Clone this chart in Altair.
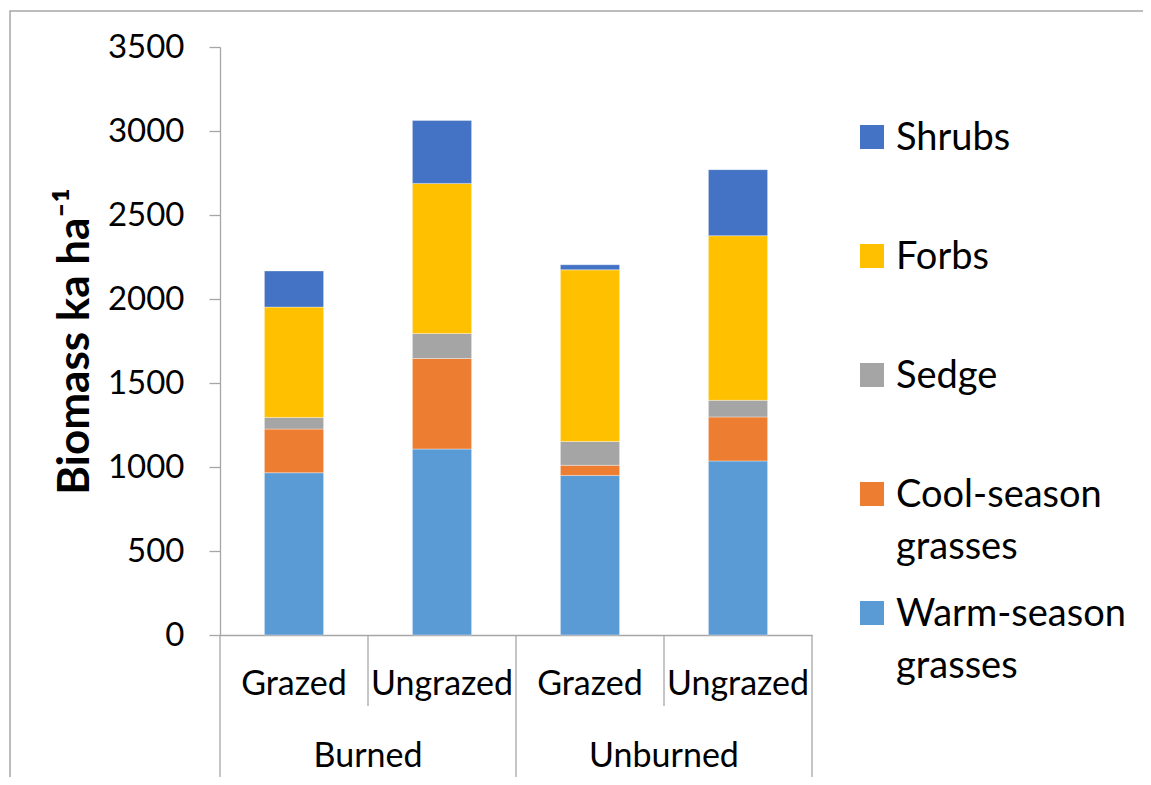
import altair as alt
import pandas as pd

# ---- data ----
fire = ["Burned", "Burned", "Unburned", "Unburned"]
grazing = ["Grazed", "Ungrazed", "Grazed", "Ungrazed"]
groups = ["Warm-season grasses", "Cool-season grasses", "Sedge", "Forbs", "Shrubs"]
warm = [966, 1107, 950, 1036]
cool = [260, 539, 60, 262]
sedge = [69, 149, 142, 99]
forbs = [657, 893, 1022, 980]
shrubs = [215, 375, 30, 393]
colors = ["#5B9BD5", "#ED7D31", "#A5A5A5", "#FFC000", "#4472C4"]
y_ticks = [0, 500, 1000, 1500, 2000, 2500, 3000, 3500]
legend_order = ["Shrubs", "Forbs", "Sedge", "Cool-season grasses", "Warm-season grasses"]

series = [warm, cool, sedge, forbs, shrubs]
keys = [f"{f}|{g}" for f, g in zip(fire, grazing)]

rows = []
for gi, (name, vals) in enumerate(zip(groups, series)):
    for k, f, g, v in zip(keys, fire, grazing, vals):
        rows.append(dict(cond=k, fire=f, grazing=g, group=name, idx=gi, value=v))
df = pd.DataFrame(rows)

cat = pd.DataFrame({"cond": keys, "fire": fire, "grazing": grazing,
                    "first": [True, False, True, False]})
long_left = pd.DataFrame({"cond": [keys[0], keys[2]]})
long_right = pd.DataFrame({"cond": [keys[3]]})
short_left = pd.DataFrame({"cond": [keys[1], keys[3]]})
leg = pd.DataFrame({"group": legend_order})

W, H = 592, 588
STEP = W / 4
GRAY = "#a6a6a6"
FONT = "Lato"

xscale = alt.Scale(domain=keys, paddingInner=0.6, paddingOuter=0.3)
x_axis = alt.Axis(labels=False, ticks=False, title=None, domainColor=GRAY, domainWidth=1.3)
x_enc = alt.X("cond:N", scale=xscale, sort=keys, axis=x_axis)
color_enc = alt.Color("group:N", scale=alt.Scale(domain=groups, range=colors), legend=None)

bars = alt.Chart(df).mark_bar(stroke="white", strokeWidth=0.6, strokeOpacity=0.6).encode(
    x=x_enc,
    y=alt.Y("value:Q", stack="zero",
            scale=alt.Scale(domain=[0, 3500], nice=False),
            axis=alt.Axis(values=y_ticks, format="d", title="Biomass ka ha⁻¹", grid=False)),
    color=color_enc,
    order=alt.Order("idx:Q", sort="ascending"),
)

sub_labels = alt.Chart(cat).mark_text(
    font=FONT, fontSize=34, baseline="alphabetic", color="#000000"
).encode(x=x_enc, y=alt.value(648), text="grazing:N")

group_labels = alt.Chart(cat).transform_filter("datum.first").mark_text(
    font=FONT, fontSize=34, baseline="alphabetic", color="#000000", dx=STEP / 2
).encode(x=x_enc, y=alt.value(720), text="fire:N")

rule_style = dict(color=GRAY, strokeWidth=1.3)
r_long_left = alt.Chart(long_left).mark_rule(xOffset=-STEP / 2, **rule_style).encode(
    x=x_enc, y=alt.value(H), y2=alt.value(H + 143))
r_long_right = alt.Chart(long_right).mark_rule(xOffset=STEP / 2, **rule_style).encode(
    x=x_enc, y=alt.value(H), y2=alt.value(H + 143))
r_short = alt.Chart(short_left).mark_rule(xOffset=-STEP / 2, **rule_style).encode(
    x=x_enc, y=alt.value(H), y2=alt.value(H + 71))

leg_y = alt.Y("group:N", scale=alt.Scale(domain=legend_order, range=[90, 566], padding=0),
              axis=None)
leg_sq = alt.Chart(leg).mark_square(size=576, opacity=1).encode(
    x=alt.value(652), y=leg_y, color=color_enc)
leg_txt = alt.Chart(leg).mark_text(
    font=FONT, fontSize=38, align="left", baseline="alphabetic", dy=13,
    lineBreak=" ", lineHeight=52, color="#000000"
).encode(x=alt.value(676), y=leg_y, text="group:N")

frame = alt.Chart(pd.DataFrame({"a": [0]})).mark_rect(
    fillOpacity=0, stroke=GRAY, strokeWidth=1.5
).encode(x=alt.value(-210), x2=alt.value(1100), y=alt.value(-36), y2=alt.value(900))

chart = alt.layer(
    frame, bars, sub_labels, group_labels, r_long_left, r_long_right, r_short, leg_sq, leg_txt
).resolve_scale(y="independent").properties(
    width=W, height=H,
    autosize=alt.AutoSizeParams(type="none"),
    padding={"left": 212, "top": 39, "right": 331, "bottom": 142},
).configure_view(strokeWidth=0).configure_axisY(
    labelFont=FONT, labelFontSize=33, labelColor="#000000", labelPadding=25,
    tickColor=GRAY, tickSize=11, tickWidth=1.3, domainColor=GRAY, domainWidth=1.3,
    titleFont=FONT, titleFontSize=44, titleFontWeight="bold", titleColor="#000000",
    titlePadding=10,
)

chart.save("out.html", embed_options={"renderer": "svg", "actions": False})
